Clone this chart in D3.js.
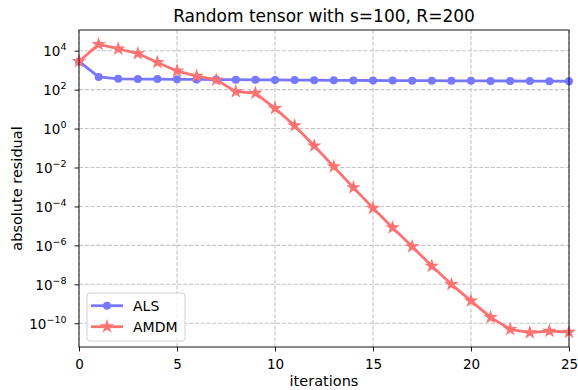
<!DOCTYPE html>
<html>
<head>
<meta charset="utf-8">
<script src="https://cdn.jsdelivr.net/npm/d3@7"></script>
<style>
	body { margin: 0; background: #fff; }
	svg { display: block; font-family: "DejaVu Sans", sans-serif; }
</style>
</head>
<body>
<svg width="578" height="390"></svg>
<script>
// @ Data
const iterations = d3.range(0, 26);
const alsResidual = [
	2.8e3, 4.5e2, 3.6e2, 3.5e2, 3.5e2, 3.4e2, 3.35e2, 3.3e2, 3.25e2, 3.2e2,
	3.15e2, 3.1e2, 3.05e2, 3.0e2, 2.98e2, 2.95e2, 2.92e2, 2.9e2, 2.88e2, 2.85e2,
	2.82e2, 2.8e2, 2.78e2, 2.75e2, 2.72e2, 2.7e2,
];
const amdmResidual = [
	2.8e3, 2.1e4, 1.26e4, 7.1e3, 2.5e3, 9.1e2, 5.0e2, 3.2e2, 79, 66,
	11, 1.4, 0.13, 1.1e-2, 9.3e-4, 8.3e-5, 8.1e-6, 8.7e-7, 8.7e-8, 1.0e-8,
	1.4e-9, 2.0e-10, 4.9e-11, 3.3e-11, 4.0e-11, 3.5e-11,
];
const xTicks = [0, 5, 10, 15, 20, 25];
const yTickExps = [-10, -8, -6, -4, -2, 0, 2, 4];
const seriesNames = ["ALS", "AMDM"];
const seriesColors = ["#7777ff", "#ff7272"];

// @ Layout
const margin = { left: 79, right: 569, top: 30, bottom: 347 };
const svg = d3.select("svg");

const x = d3.scaleLinear().domain([0, 25]).range([margin.left, margin.right]);
const y = d3
	.scaleLog()
	.domain([Math.pow(10, -11.22), Math.pow(10, 5.063)])
	.range([margin.bottom, margin.top]);

// @ Grid
const grid = svg
	.append("g")
	.attr("stroke", "#c4c4c4")
	.attr("stroke-width", 1.1)
	.attr("stroke-dasharray", "4,1.8");
grid
	.selectAll(".gx")
	.data(xTicks)
	.enter()
	.append("line")
	.attr("x1", (d) => x(d))
	.attr("x2", (d) => x(d))
	.attr("y1", margin.top)
	.attr("y2", margin.bottom);
grid
	.selectAll(".gy")
	.data(yTickExps)
	.enter()
	.append("line")
	.attr("x1", margin.left)
	.attr("x2", margin.right)
	.attr("y1", (d) => y(Math.pow(10, d)))
	.attr("y2", (d) => y(Math.pow(10, d)));

// @ Series
const series = [alsResidual, amdmResidual].map((vals, k) => ({
	name: seriesNames[k],
	color: seriesColors[k],
	points: vals.map((v, i) => ({ it: iterations[i], v })),
}));

const line = d3
	.line()
	.x((d) => x(d.it))
	.y((d) => y(d.v));

const starSize = (r) => (r * r) / 0.8908130915292852;
const star = d3.symbol().type(d3.symbolStar).size(starSize(7.6));
const dotR = 4;
const lineW = 2.8;

const plot = svg.append("g");
series.forEach((s, k) => {
	plot
		.append("path")
		.datum(s.points)
		.attr("d", line)
		.attr("fill", "none")
		.attr("stroke", s.color)
		.attr("stroke-width", lineW)
		.attr("stroke-linejoin", "round");
	if (k === 0) {
		plot
			.selectAll(".dot")
			.data(s.points)
			.enter()
			.append("circle")
			.attr("cx", (d) => x(d.it))
			.attr("cy", (d) => y(d.v))
			.attr("r", dotR)
			.attr("fill", s.color);
	} else {
		plot
			.selectAll(".star")
			.data(s.points)
			.enter()
			.append("path")
			.attr("d", star)
			.attr("transform", (d) => `translate(${x(d.it)},${y(d.v)})`)
			.attr("fill", s.color);
	}
});

// @ Axes
const xAxis = svg
	.append("g")
	.attr("transform", `translate(0,${margin.bottom})`)
	.call(d3.axisBottom(x).tickValues(xTicks).tickSize(4.5).tickPadding(7.5).tickFormat(d3.format("d")));

const yAxis = svg
	.append("g")
	.attr("transform", `translate(${margin.left},0)`)
	.call(
		d3
			.axisLeft(y)
			.tickValues(yTickExps.map((e) => Math.pow(10, e)))
			.tickSize(4.5)
			.tickPadding(8)
			.tickFormat("")
	);

[xAxis, yAxis].forEach((a) => {
	a.select(".domain").remove();
	a.selectAll(".tick line").attr("stroke", "#000").attr("stroke-width", 0.9);
	a.selectAll("text").attr("font-size", 13.5).attr("font-family", "DejaVu Sans").attr("fill", "#000");
});

yAxis
	.selectAll(".tick text")
	.attr("dy", "0.36em")
	.each(function (d) {
		const t = d3.select(this);
		const e = Math.round(Math.log10(d));
		t.append("tspan").text("10");
		t.append("tspan")
			.attr("dy", "-0.63em")
			.attr("font-size", 9.5)
			.text(e < 0 ? "\u2212" + -e : String(e));
	});

// spines
svg
	.append("rect")
	.attr("x", margin.left)
	.attr("y", margin.top)
	.attr("width", margin.right - margin.left)
	.attr("height", margin.bottom - margin.top)
	.attr("fill", "none")
	.attr("stroke", "#000")
	.attr("stroke-width", 0.9);

// @ Labels
svg
	.append("text")
	.attr("x", (margin.left + margin.right) / 2)
	.attr("y", 22)
	.attr("text-anchor", "middle")
	.style("font-size", "17px")
	.text("Random tensor with s=100, R=200");

svg
	.append("text")
	.attr("x", (margin.left + margin.right) / 2)
	.attr("y", 386)
	.attr("text-anchor", "middle")
	.style("font-size", "14.5px")
	.text("iterations");

svg
	.append("text")
	.attr("transform", `translate(21.5,${(margin.top + margin.bottom) / 2})rotate(-90)`)
	.attr("text-anchor", "middle")
	.style("font-size", "14.5px")
	.text("absolute residual");

// @ Legend
const legend = svg.append("g").attr("transform", "translate(87,293)");
legend
	.append("rect")
	.attr("width", 98)
	.attr("height", 48)
	.attr("rx", 3)
	.attr("fill", "#fff")
	.attr("fill-opacity", 0.8)
	.attr("stroke", "#cccccc")
	.attr("stroke-width", 0.9);

const legendItems = legend
	.selectAll(".item")
	.data(series)
	.enter()
	.append("g")
	.attr("transform", (d, i) => `translate(0,${12.7 + i * 21})`);

legendItems
	.append("line")
	.attr("x1", 4)
	.attr("x2", 36)
	.attr("stroke", (d) => d.color)
	.attr("stroke-width", lineW);

legendItems
	.filter((d, i) => i === 0)
	.append("circle")
	.attr("cx", 20)
	.attr("r", dotR)
	.attr("fill", (d) => d.color);

legendItems
	.filter((d, i) => i === 1)
	.append("path")
	.attr("d", star)
	.attr("transform", "translate(20,0)")
	.attr("fill", (d) => d.color);

legendItems
	.append("text")
	.attr("x", 46)
	.attr("dy", "0.36em")
	.style("font-size", "14px")
	.text((d) => d.name);
</script>
</body>
</html>
